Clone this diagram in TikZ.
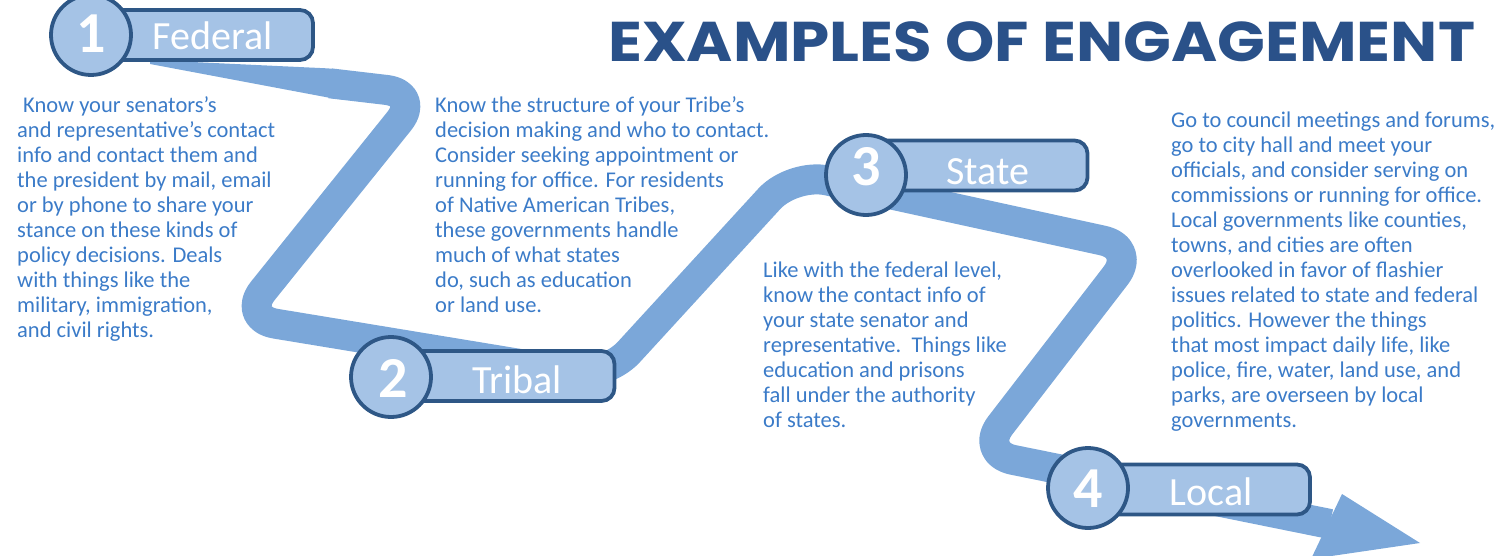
\documentclass[tikz,border=0pt]{standalone}
\usepackage{fontspec}
\setmainfont{Carlito}
\newfontfamily\titlefont{Poppins}[FakeStretch=1.12]
\definecolor{ribbonc}{HTML}{7BA7D9}
\definecolor{lightc}{HTML}{A5C3E6}
\definecolor{borderc}{HTML}{2E5786}
\definecolor{textc}{HTML}{3B7BC8}
\definecolor{titlec}{HTML}{2A5189}
\tikzset{
  ribbon/.style={draw=ribbonc, line width=30pt, rounded corners=35pt, line cap=butt, line join=round},
  ribbonfill/.style={fill=ribbonc, draw=none},
  numcirc/.style={circle, draw=borderc, line width=3.8pt, fill=lightc, minimum size=80pt, inner sep=0pt},
  numtext/.style={text=white, inner sep=0pt, font=\bfseries\fontsize{58}{58}\selectfont},
  labelbox/.style={rectangle, rounded corners=13pt, draw=borderc, line width=3.8pt, fill=lightc, minimum width=219pt, minimum height=50pt, inner sep=0pt},
  boxlabel/.style={text=white, font=\fontsize{40}{40}\selectfont, anchor=base, inner sep=0pt},
  bodytext/.style={text=textc, font=\fontsize{22.5}{25}\selectfont, align=left, anchor=base west, inner sep=0pt},
}
\begin{document}
\begin{tikzpicture}[x=1pt,y=-1pt]
\useasboundingbox (0,0) rectangle (1503,556);
% ribbon path coordinates
\coordinate (t0) at (150,60);
\coordinate (t1) at (150,64);
\coordinate (wt) at (328.3,68.4);
\coordinate (wt2) at (338.2,69.6);
\coordinate (wb2) at (341.6,99.4);
\coordinate (wb) at (331.7,98.2);
\coordinate (s) at (330,83.3);
\coordinate (k1) at (421,94);
\coordinate (k2) at (241,318);
\coordinate (k3) at (605,378);
\coordinate (k4) at (793,173);
\coordinate (k5) at (1137,248);
\coordinate (k6) at (979,453);
\coordinate (e) at (1330,524);
\coordinate (ah1) at (1342,494);
\coordinate (ah2) at (1420,543);
\coordinate (ah3) at (1311,559);
\fill[ribbonfill] (t0) -- (wt) -- (wt2) -- (wb2) -- (wb) -- (t1) -- cycle;
\draw[ribbon] (s) -- (k1) -- (k2) -- (k3) -- (k4) -- (k5) -- (k6) -- (e);
\fill[ribbonfill] (ah1) -- (ah2) -- (ah3) -- cycle;
% boxes
\node[labelbox] (b1) at (203.5,35) {};
\node[labelbox] (b2) at (505,376) {};
\node[labelbox] (b3) at (978,165.5) {};
\node[labelbox] (b4) at (1200.5,489.5) {};
% circles
\node[numcirc] (c1) at (91,35) {};
\node[numcirc] (c2) at (391,377) {};
\node[numcirc] (c3) at (866,175) {};
\node[numcirc] (c4) at (1088,488) {};
\node[numtext] (n1) at (91,34) {1};
\node[numtext] (n2) at (393,378) {2};
\node[numtext] (n3) at (866,167) {3};
\node[numtext] (n4) at (1088,489) {4};
% labels
\node[boxlabel] (l1) at (213,50) {Federal};
\node[boxlabel] (l2) at (517,393) {Tribal};
\node[boxlabel] (l3) at (988,185) {State};
\node[boxlabel] (l4) at (1211,505) {Local};
% title
\node[anchor=base west, inner sep=0pt, text=titlec, font=\titlefont\bfseries\fontsize{56}{56}\selectfont] (title) at (608,62) {EXAMPLES OF ENGAGEMENT};
% texts (anchor is the baseline of the last line)
\node[bodytext] (t1) at (17,337) {\hspace{6pt}Know your senators’s\\
and representative’s contact\\
info and contact them and\\
the president by mail, email\\
or by phone to share your\\
stance on these kinds of\\
policy decisions. Deals\\
with things like the\\
military, immigration,\\
and civil rights.};
\node[bodytext] (t2) at (435,312) {Know the structure of your Tribe’s\\
decision making and who to contact.\\
Consider seeking appointment or\\
running for office. For residents\\
of Native American Tribes,\\
these governments handle\\
much of what states\\
do, such as education\\
or land use.};
\node[bodytext] (t3) at (763,427) {Like with the federal level,\\
know the contact info of\\
your state senator and\\
representative.\ \ Things like\\
education and prisons\\
fall under the authority\\
of states.};
\node[bodytext] (t4) at (1171,427) {Go to council meetings and forums,\\
go to city hall and meet your\\
officials, and consider serving on\\
commissions or running for office.\\
Local governments like counties,\\
towns, and cities are often\\
overlooked in favor of flashier\\
issues related to state and federal\\
politics. However the things\\
that most impact daily life, like\\
police, fire, water, land use, and\\
parks, are overseen by local\\
governments.};
\end{tikzpicture}
\end{document}
